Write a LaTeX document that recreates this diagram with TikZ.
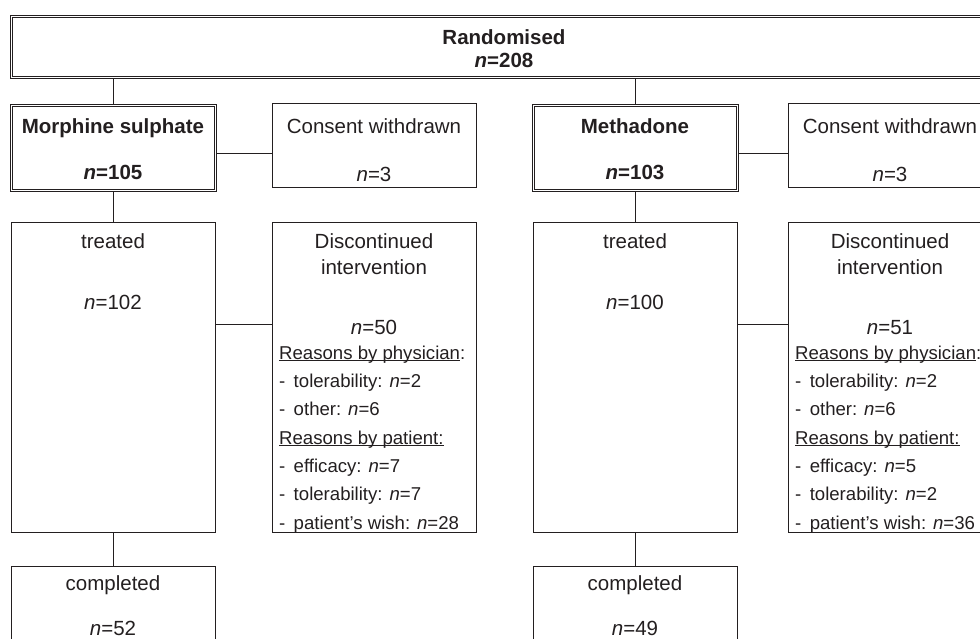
\documentclass[tikz,border=0pt]{standalone}
\usepackage{fontspec}
\setmainfont{Liberation Sans}
\definecolor{ink}{HTML}{231F20}
\tikzset{
  box/.style={draw=ink, line width=1pt, inner sep=0pt, minimum width=204pt},
  dline/.style={draw=ink, line width=0.9pt, inner sep=0pt},
  head/.style={text=ink, inner sep=0pt, anchor=base, align=center, font=\fontsize{20.5}{25}\selectfont},
  bold/.style={head, font=\fontsize{20.5}{23}\selectfont\bfseries},
  reason/.style={text=ink, inner sep=0pt, anchor=base west, align=left, font=\fontsize{18.6}{28.3}\selectfont},
  link/.style={draw=ink, line width=1pt}
}
\newcommand{\dash}{-\hspace{0.45em}}
\newcommand{\reasonhead}[1]{\underline{\smash{#1}}}

\begin{document}
\begin{tikzpicture}[x=1pt, y=-1pt]
        \useasboundingbox (0,0) rectangle (980,639);
        \clip (0,0) rectangle (980,639);

        % Randomisation (double frame)
        \node[dline, minimum width=988pt, minimum height=63pt] (rand) at (504,46.5) {};
        \node[dline, minimum width=984pt, minimum height=59pt] (randin) at (504,46.5) {};
        \node[bold] (randtxt) at (504,45) {Randomised};
        \node[bold] (randn) at (504,68) {\textit{n}=208};

        % 1. Morphine sulphate arm
        \node[dline, minimum width=206pt, minimum height=87pt] (morph) at (113,147.5) {};
        \node[dline, minimum width=202pt, minimum height=83pt] (morphin) at (113,147.5) {};
        \node[bold] (morphtxt) at (113,134) {Morphine sulphate};
        \node[bold] (morphn) at (113,180) {\textit{n}=105};

        \node[box, minimum height=84pt] (consA) at (374,146) {};
        \node[head] (consAtxt) at (374,134) {Consent withdrawn};
        \node[head] (consAn) at (374,182) {\textit{n}=3};

        \node[box, minimum height=309pt] (treatA) at (113,377.5) {};
        \node[head] (treatAtxt) at (113,249) {treated};
        \node[head] (treatAn) at (113,309) {\textit{n}=102};

        \node[box, minimum height=309pt] (discA) at (374,377.5) {};
        \node[head] (discAtxt) at (374,274) {Discontinued\\intervention};
        \node[head] (discAn) at (374,334) {\textit{n}=50};
        \node[reason] (discAlist) at (279,529) {\reasonhead{Reasons by physician}:\\
          \dash tolerability: \textit{n}=2\\
          \dash other: \textit{n}=6\\
          \reasonhead{Reasons by patient:}\\
          \dash efficacy: \textit{n}=7\\
          \dash tolerability: \textit{n}=7\\
          \dash patient’s wish: \textit{n}=28};

        \node[box, minimum height=100pt] (compA) at (113,616) {};
        \node[head] (compAtxt) at (113,590) {completed};
        \node[head] (compAn) at (113,635) {\textit{n}=52};

        % 2. Methadone arm
        \node[dline, minimum width=206pt, minimum height=87pt] (meth) at (635,147.5) {};
        \node[dline, minimum width=202pt, minimum height=83pt] (methin) at (635,147.5) {};
        \node[bold] (methtxt) at (635,134) {Methadone};
        \node[bold] (methn) at (635,180) {\textit{n}=103};

        \node[box, minimum height=84pt] (consB) at (890,146) {};
        \node[head] (consBtxt) at (890,134) {Consent withdrawn};
        \node[head] (consBn) at (890,182) {\textit{n}=3};

        \node[box, minimum height=309pt] (treatB) at (635,377.5) {};
        \node[head] (treatBtxt) at (635,249) {treated};
        \node[head] (treatBn) at (635,309) {\textit{n}=100};

        \node[box, minimum height=309pt] (discB) at (890,377.5) {};
        \node[head] (discBtxt) at (890,274) {Discontinued\\intervention};
        \node[head] (discBn) at (890,334) {\textit{n}=51};
        \node[reason] (discBlist) at (795,529) {\reasonhead{Reasons by physician}:\\
          \dash tolerability: \textit{n}=2\\
          \dash other: \textit{n}=6\\
          \reasonhead{Reasons by patient:}\\
          \dash efficacy: \textit{n}=5\\
          \dash tolerability: \textit{n}=2\\
          \dash patient’s wish: \textit{n}=36};

        \node[box, minimum height=100pt] (compB) at (635,616) {};
        \node[head] (compBtxt) at (635,590) {completed};
        \node[head] (compBn) at (635,635) {\textit{n}=49};

        % Connectors
        \coordinate (mA) at ([yshift=-6.5pt]morph.east);
        \coordinate (mB) at ([yshift=-6.5pt]meth.east);
        \coordinate (tA) at ([yshift=53.5pt]treatA.east);
        \coordinate (tB) at ([yshift=53.5pt]treatB.east);
        \draw[link] (rand.south -| morph.north) -- (morph.north);
        \draw[link] (rand.south -| meth.north) -- (meth.north);
        \draw[link] (mA) -- (mA -| consA.west);
        \draw[link] (mB) -- (mB -| consB.west);
        \draw[link] (morph.south) -- (treatA.north);
        \draw[link] (meth.south) -- (treatB.north);
        \draw[link] (tA) -- (tA -| discA.west);
        \draw[link] (tB) -- (tB -| discB.west);
        \draw[link] (treatA.south) -- (compA.north);
        \draw[link] (treatB.south) -- (compB.north);
\end{tikzpicture}
\end{document}
